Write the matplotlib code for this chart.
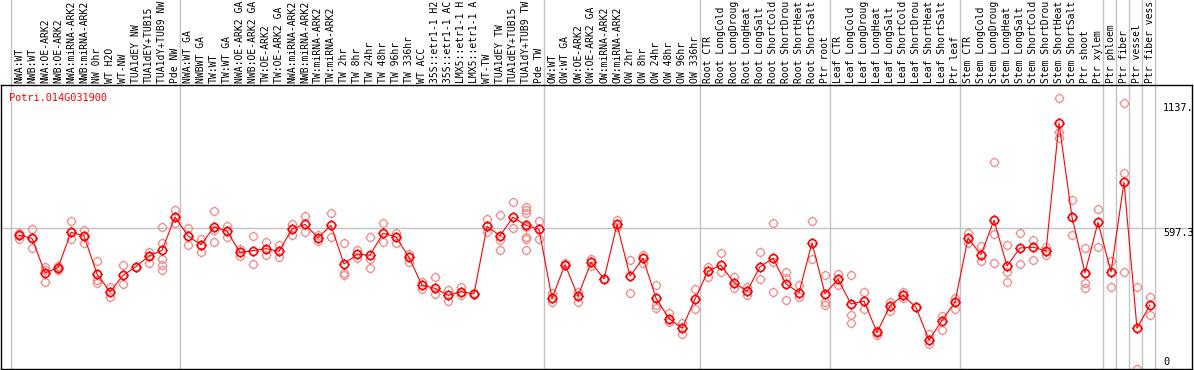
import numpy as np
import matplotlib
matplotlib.use("Agg")
import matplotlib.pyplot as plt
from matplotlib.path import Path

# sample names (as shown, truncated at the top of the figure)
labels = [
    "NWA:WT", "NWB:WT", "NWA:OE-ARK2", "NWB:OE-ARK2", "NWA:miRNA-ARK2", "NWB:miRNA-ARK2",
    "NW 0hr", "WT H2O", "WT-NW", "TUA1dEY NW", "TUA1dEY+TUB15", "TUA1dY+TUB9 NW", "Pde NW",
    "NWA:WT GA", "NWBWT GA", "TW:WT", "TW:WT GA", "NWA:OE-ARK2 GA", "NWB:OE-ARK2 GA",
    "TW:OE-ARK2", "TW:OE-ARK2 GA", "NWA:miRNA-ARK2", "NWB:miRNA-ARK2", "TW:miRNA-ARK2",
    "TW:miRNA-ARK2", "TW 2hr", "TW 8hr", "TW 24hr", "TW 48hr", "TW 96hr", "TW 336hr",
    "WT ACC", "35S::etr1-1 H2", "35S::etr1-1 AC", "LMX5::etr1-1 H", "LMX5::etr1-1 A",
    "WT-TW", "TUA1dEY TW", "TUA1dEY+TUB15", "TUA1dY+TUB9 TW", "Pde TW",
    "OW:WT", "OW:WT GA", "OW:OE-ARK2", "OW:OE-ARK2 GA", "OW:miRNA-ARK2", "OW:miRNA-ARK2",
    "OW 2hr", "OW 8hr", "OW 24hr", "OW 48hr", "OW 96hr", "OW 336hr",
    "Root CTR", "Root LongCold", "Root LongDroug", "Root LongHeat", "Root LongSalt",
    "Root ShortCold", "Root ShortDrou", "Root ShortHeat", "Root ShortSalt", "Ptr root",
    "Leaf CTR", "Leaf LongCold", "Leaf LongDroug", "Leaf LongHeat", "Leaf LongSalt",
    "Leaf ShortCold", "Leaf ShortDrou", "Leaf ShortHeat", "Leaf ShortSalt", "Ptr leaf",
    "Stem CTR", "Stem LongCold", "Stem LongDroug", "Stem LongHeat", "Stem LongSalt",
    "Stem ShortCold", "Stem ShortDrou", "Stem ShortHeat", "Stem ShortSalt", "Ptr shoot",
    "Ptr xylem", "Ptr phloem", "Ptr fiber", "Ptr vessel", "Ptr fiber vess",
]

# mean expression per sample
means = [
    567, 554, 410, 432, 579, 564, 406, 331, 400, 436, 481, 504, 643,
    564, 527, 601, 584, 496, 503, 511, 500, 593, 612, 557, 608, 447, 488, 484, 575,
    560, 475, 359, 346, 317, 332, 323, 604, 565, 642, 608, 592,
    305, 445, 313, 454, 385, 612, 397, 471, 305, 220, 180, 301,
    418, 442, 370, 334, 436, 471, 364, 328, 536, 323,
    384, 281, 293, 163, 273, 317, 267, 131, 212, 289,
    554, 486, 630, 439, 514, 517, 502, 1033, 642, 410, 621,
    414, 788, 180, 277,
]

# individual replicates per sample
reps = [
    [578, 567, 553], [593, 554, 513], [436, 422, 371], [439, 432, 422],
    [626, 579, 550], [589, 564, 533], [458, 381, 370], [353, 309],
    [442, 363], [436], [499, 481, 453], [600, 533, 470, 445, 422],
    [672, 617], [597, 527], [553, 499], [668, 589, 540], [607, 561],
    [508, 482], [564, 449], [539, 484], [525, 475], [614, 568],
    [647, 582], [568, 545], [658, 560], [533, 411, 400], [506, 474],
    [558, 470, 430], [617, 539], [578, 533], [489, 457], [371, 343],
    [392, 323], [339, 295], [353, 318], [328, 323], [635, 582],
    [650, 547, 504], [704, 596], [683, 672, 658, 561, 550, 504, 600],
    [626, 553], [325, 289], [453, 445], [332, 291], [467, 440],
    [385], [631, 603], [463, 327], [485, 450], [359, 277, 263],
    [242, 208], [203, 155], [342, 259], [436, 395], [492, 416],
    [395, 349], [350, 317], [496, 384], [617, 456, 330], [416, 388, 298],
    [360, 309], [626, 467], [400, 289, 277], [404, 360], [400, 234, 200],
    [330, 260], [170, 152], [291, 253], [331, 305], [267],
    [156, 114], [231, 173], [307, 260], [575, 533], [522, 461],
    [872, 571, 450], [525, 416, 371], [575, 447], [547, 464], [520, 485],
    [1137, 998, 970], [714, 568], [512, 370, 346], [675, 520],
    [461, 350], [1116, 825, 414], [350, 9], [309, 234],
]

# last sample index of each group
group_ends = [-1, 12, 40, 52, 62, 72, 83, 84, 85, 86, 87]
ticks = [0, 597.3, 1137]
title = "Potri.014G031900"

red = "#ff0000"
pink = "#f08c8c"
grey = "#c4c4c4"
mono = "DejaVu Sans Mono"

# circle with four little spikes
circ = Path.unit_circle()
spikes = Path([(1, 0), (1.3, 0), (-1, 0), (-1.3, 0), (0, 1), (0, 1.3), (0, -1), (0, -1.3)],
              [Path.MOVETO, Path.LINETO] * 4)
marker = Path.make_compound_path(circ, spikes)

W, H = 1194, 370
fig = plt.figure(figsize=(W / 100, H / 100), dpi=100)
ax = fig.add_axes([1 / W, 1 / H, 1191 / W, 284 / H])

x = np.arange(len(labels))
ax.set_xlim(-1.385, 90.23)
ax.set_ylim(10.4, 1192)

# group separators, running up through the label strip
for g in group_ends:
    ax.axvline(g + 0.4, ymin=0, ymax=1.31, color=grey, lw=1, clip_on=False, zorder=1)
ax.axhline(ticks[1], color=grey, lw=1, zorder=1)

for i, r in enumerate(reps):
    ax.plot([i] * len(r), r, linestyle="none", marker=marker, ms=7.2, mfc="none",
            mec=pink, mew=0.9, zorder=2, clip_on=False)

ax.plot(x, means, color=red, lw=0.8, zorder=3)
ax.plot(x, means, linestyle="none", marker=marker, ms=7.4, mfc="none", mec=red,
        mew=1.2, zorder=4)

for i, lab in enumerate(labels):
    ax.text(i, 1.006, lab, transform=ax.get_xaxis_transform(), rotation=90,
            ha="center", va="bottom", fontsize=7.0, family=mono, clip_on=False)

ax.text(-0.8, 1160, title, color=red, fontsize=7.4, family=mono, va="top", ha="left")

ax.text(88.0, ticks[2] - 18, "1137.", fontsize=7.4, family=mono, va="top", ha="left")
ax.text(88.0, ticks[1], "597.3", fontsize=7.4, family=mono, va="top", ha="left")
ax.text(88.0, 20, "0", fontsize=7.4, family=mono, va="bottom", ha="left")

ax.set_xticks([])
ax.set_yticks([])
for s in ax.spines.values():
    s.set_linewidth(1.0)
    s.set_color("black")

fig.savefig("out.png", dpi=100)
